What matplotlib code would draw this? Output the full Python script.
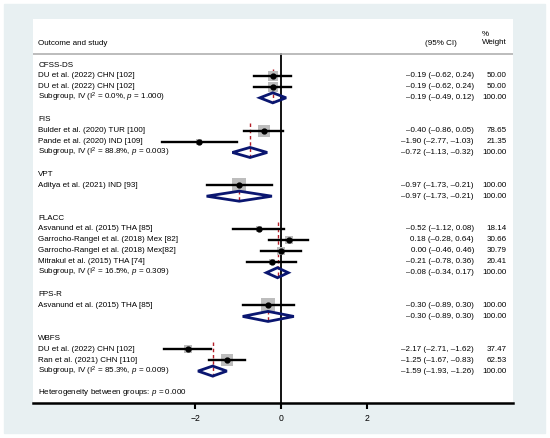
import matplotlib.pyplot as plt
from matplotlib.patches import Rectangle, Polygon

plt.rcParams['font.family'] = ['Liberation Sans', 'DejaVu Sans']
plt.rcParams['mathtext.fontset'] = 'custom'
plt.rcParams['mathtext.rm'] = 'Liberation Sans'
plt.rcParams['mathtext.it'] = 'Liberation Sans:italic'

# DATA
groups = ["CFSS-DS", "FIS", "VPT", "FLACC", "FPS-R", "WBFS"]
study_names = ["DU et al. (2022) CHN [102]", "DU et al. (2022) CHN [102]",
               "Bulder et al. (2020) TUR [100]", "Pande et al. (2020) IND [109]",
               "Aditya et al. (2021) IND [93]",
               "Asvanund et al. (2015) THA [85]", "Garrocho-Rangel et al. (2018) Mex [82]",
               "Garrocho-Rangel et al. (2018) Mex[82]", "Mitrakul et al. (2015) THA [74]",
               "Asvanund et al. (2015) THA [85]",
               "DU et al. (2022) CHN [102]", "Ran et al. (2021) CHN [110]"]
study_group = [0, 0, 1, 1, 2, 3, 3, 3, 3, 4, 5, 5]
est = [-0.19, -0.19, -0.40, -1.90, -0.97, -0.52, 0.18, 0.00, -0.21, -0.30, -2.17, -1.25]
lo = [-0.62, -0.62, -0.86, -2.77, -1.73, -1.12, -0.28, -0.46, -0.78, -0.89, -2.71, -1.67]
hi = [0.24, 0.24, 0.05, -1.03, -0.21, 0.08, 0.64, 0.46, 0.36, 0.30, -1.62, -0.83]
wt = [50.00, 50.00, 78.65, 21.35, 100.00, 18.14, 30.66, 30.79, 20.41, 100.00, 37.47, 62.53]

sub_est = [-0.19, -0.72, -0.97, -0.08, -0.30, -1.59]
sub_lo = [-0.49, -1.13, -1.73, -0.34, -0.89, -1.93]
sub_hi = [0.12, -0.32, -0.21, 0.17, 0.30, -1.26]
sub_i2 = ["0.0%", "88.8%", None, "16.5%", None, "85.3%"]
sub_p = ["1.000", "0.003", None, "0.309", None, "0.009"]
het_p = "0.000"
xticks = [-2, 0, 2]

navy = '#0a1670'
red = '#b41e28'
fs = 5.8


def fmt_ci(e, l, h):
    return f"{e:.2f} ({l:.2f}, {h:.2f})".replace('-', '\u2013')


fig = plt.figure(figsize=(5.5, 4.38), dpi=100)
fig.patch.set_facecolor('white')
fig.patches.append(Rectangle((4 / 550, 5 / 438), 541 / 550, 429 / 438,
                             transform=fig.transFigure, color='#e8f0f2', zorder=-10))
ax = fig.add_axes([33 / 550, 35 / 438, 480 / 550, 384 / 438])
ax.set_zorder(5)
ax.set_facecolor('white')
ax.set_xlim(-5.77, 5.40)
ax.set_ylim(30.92, -4.21)

x_lab = -5.65
x_ci = 3.72
x_wt = 5.26

# header
ax.text(x_lab, -2.0, "Outcome and study", fontsize=fs, va='center', ha='left')
ax.text(x_ci, -2.0, "(95% CI)", fontsize=fs, va='center', ha='center')
ax.text(x_wt, -2.45, "%\nWeight", fontsize=fs, va='center', ha='right',
        multialignment='left', linespacing=1.2)
ax.axhline(-1.0, color='#b0b0b0', lw=1.2)

row = 0
for g, gname in enumerate(groups):
    ax.text(x_lab, row, gname, fontsize=fs, va='center')
    row += 1
    first = row
    for i in range(len(study_names)):
        if study_group[i] != g:
            continue
        ax.text(x_lab, row, study_names[i], fontsize=fs, va='center')
        ax.scatter([est[i]], [row], s=1.05 * wt[i], marker='s', color='#bdbdbd',
                   zorder=2, linewidths=0)
        ax.plot([lo[i], hi[i]], [row, row], color='black', lw=1.7, zorder=3)
        ax.plot([est[i]], [row], 'o', color='black', ms=3.5, zorder=4)
        ax.text(x_ci + 0.77, row, fmt_ci(est[i], lo[i], hi[i]), fontsize=fs,
                va='center', ha='right')
        ax.text(x_wt, row, f"{wt[i]:.2f}", fontsize=fs, va='center', ha='right')
        row += 1
    # subgroup
    if sub_i2[g] is not None:
        lab = f"Subgroup, IV (I$^2$ = {sub_i2[g]}, $p$ = {sub_p[g]})"
        ax.text(x_lab, row, lab, fontsize=fs, va='center')
    ax.plot([sub_est[g], sub_est[g]], [first - 0.65, row + 0.5], color=red,
            lw=1.0, ls=(0, (2.5, 2)), zorder=1)
    d = Polygon([[sub_lo[g], row], [sub_est[g], row - 0.46], [sub_hi[g], row],
                 [sub_est[g], row + 0.46]], closed=True, facecolor='none',
                edgecolor=navy, lw=2.0, zorder=5)
    ax.add_patch(d)
    ax.text(x_ci + 0.77, row, fmt_ci(sub_est[g], sub_lo[g], sub_hi[g]), fontsize=fs,
            va='center', ha='right')
    ax.text(x_wt, row, "100.00", fontsize=fs, va='center', ha='right')
    row += 2

ax.text(x_lab, row, f"Heterogeneity between groups: $p$ = {het_p}", fontsize=fs,
        va='center')

ax.plot([0, 0], [-1.0, 30.92], color='black', lw=1.3, zorder=1)

for s in ['top', 'left', 'right']:
    ax.spines[s].set_visible(False)
ax.spines['bottom'].set_linewidth(1.8)
ax.set_yticks([])
ax.set_xticks(xticks)
ax.set_xticklabels([f"{t}".replace('-', '\u2212') for t in xticks])
ax.tick_params(axis='x', direction='out', length=4, width=1.5, labelsize=6.2, pad=4)

fig.savefig('out.png', dpi=100, facecolor=fig.get_facecolor())
